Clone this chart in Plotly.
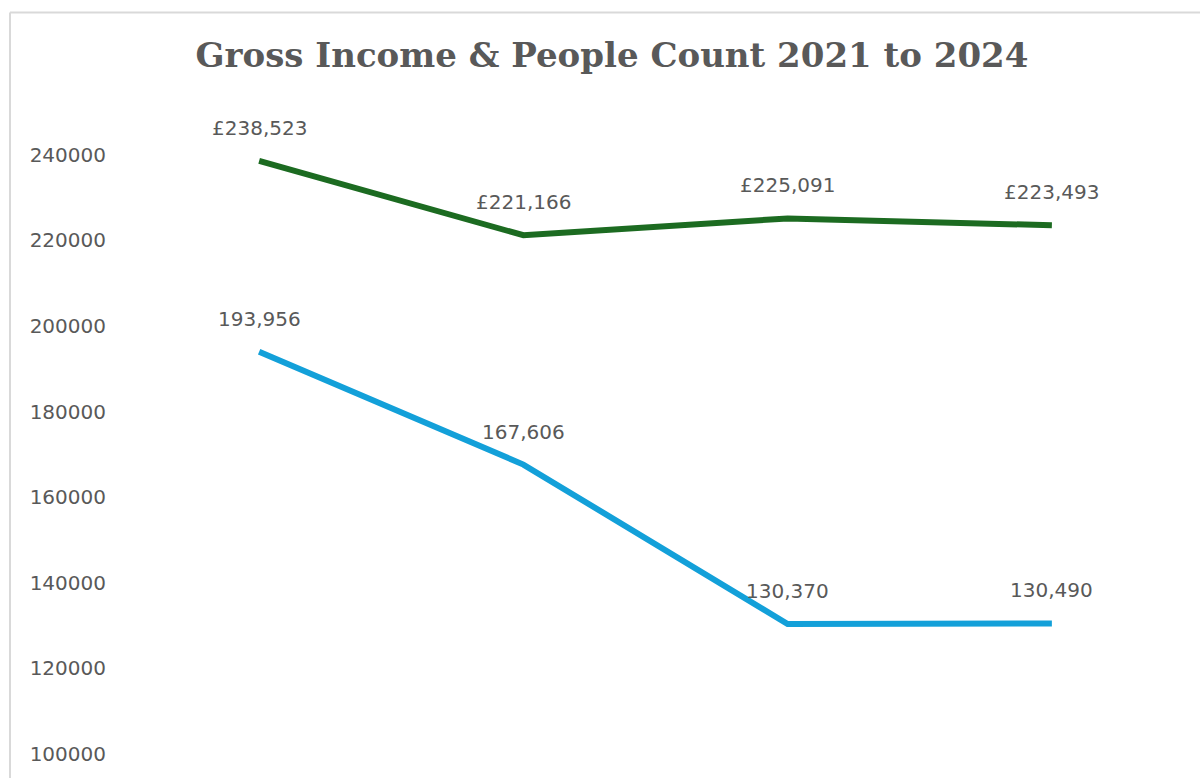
import plotly.graph_objects as go

years = ["2021", "2022", "2023", "2024"]
gross_income = [238523, 221166, 225091, 223493]
people_count = [193956, 167606, 130370, 130490]
y_ticks = [100000, 120000, 140000, 160000, 180000, 200000, 220000, 240000]

GREEN = "#1c6b21"
BLUE = "#13a0d9"
TEXT = "#595959"
FONT = "DejaVu Sans"

xs = list(range(len(years)))

fig = go.Figure()
fig.add_trace(go.Scatter(x=xs, y=gross_income, mode="lines", name="Gross Income",
                         line=dict(color=GREEN, width=6), hoverinfo="skip"))
fig.add_trace(go.Scatter(x=xs, y=people_count, mode="lines", name="People Count",
                         line=dict(color=BLUE, width=6), hoverinfo="skip"))

annotations = []
for x, v in zip(xs, gross_income):
    annotations.append(dict(x=x, y=v, xref="x", yref="y", text=f"£{v:,}", showarrow=False,
                            yshift=33, font=dict(family=FONT, size=20, color=TEXT)))
for x, v in zip(xs, people_count):
    annotations.append(dict(x=x, y=v, xref="x", yref="y", text=f"{v:,}", showarrow=False,
                            yshift=33, font=dict(family=FONT, size=20, color=TEXT)))

top_frac = (778 - 12 - 18) / (778 - 69 - 18)
left_frac = -117 / 1057

fig.update_layout(
    width=1200, height=778,
    margin=dict(l=127, r=16, t=69, b=18),
    paper_bgcolor="white", plot_bgcolor="white",
    showlegend=False,
    title=dict(text="<b>Gross Income & People Count 2021 to 2024</b>",
               x=612 / 1200, xanchor="center", xref="container",
               y=1 - 55 / 778, yanchor="middle", yref="container",
               font=dict(family="DejaVu Serif", size=34, color=TEXT)),
    xaxis=dict(range=[-0.5, 3.5], visible=False),
    yaxis=dict(range=[100000, 260000], tickvals=y_ticks, ticktext=[str(t) for t in y_ticks],
               showgrid=False, zeroline=False, showline=False, ticks="",
               ticklabelstandoff=20,
               tickfont=dict(family=FONT, size=20, color=TEXT)),
    annotations=annotations,
    shapes=[
        dict(type="line", xref="paper", yref="paper", x0=left_frac, x1=1.2, y0=top_frac, y1=top_frac,
             line=dict(color="#d9d9d9", width=2)),
        dict(type="line", xref="paper", yref="paper", x0=left_frac, x1=left_frac, y0=-0.1, y1=top_frac,
             line=dict(color="#d9d9d9", width=2)),
    ],
)
fig.write_html("out.html")
